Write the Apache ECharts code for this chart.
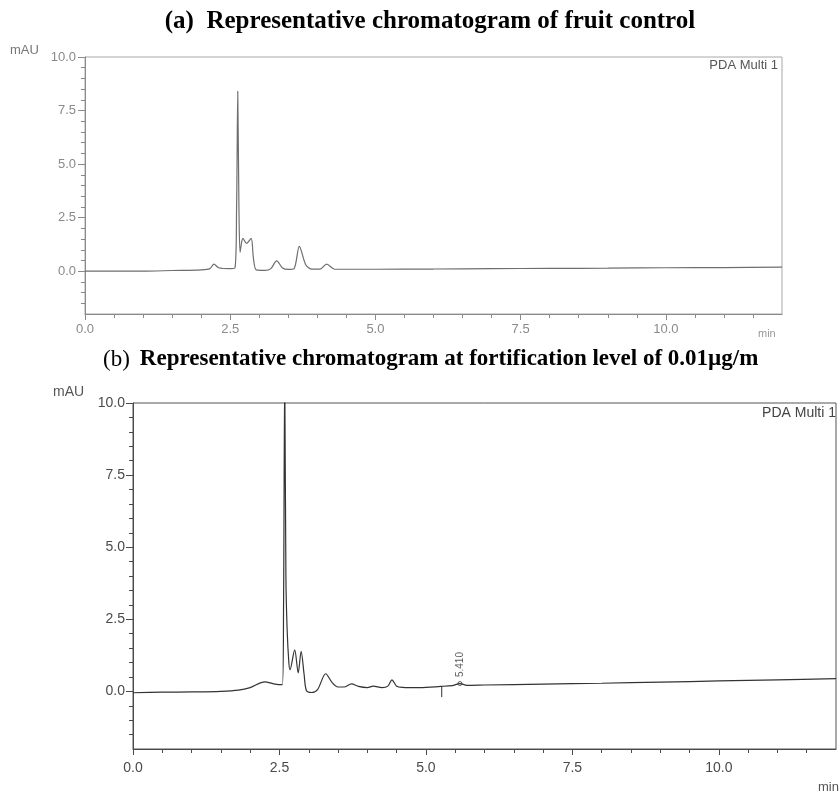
<!DOCTYPE html>
<html>
<head>
<meta charset="utf-8">
<script src="https://cdn.jsdelivr.net/npm/echarts@6/dist/echarts.min.js"></script>
<style>
html,body{margin:0;padding:0;background:#fff;}
#c{width:840px;height:794px;}
</style>
</head>
<body>
<div id="c"></div>
<script>
// ---- data ----
const titleA = 'Representative chromatogram of fruit control';
const titleB = 'Representative chromatogram at fortification level of 0.01µg/m';
const yUnit = 'mAU';
const xUnit = 'min';
const detector = 'PDA Multi 1';
const majorTicks = [0, 2.5, 5, 7.5, 10];
const xMinorTicks = [0.5,1,1.5,2,3,3.5,4,4.5,5.5,6,6.5,7,8,8.5,9,9.5,10.5,11,11.5];
const yMinorTicks = [-1.5,-1,-0.5,0.5,1,1.5,2,3,3.5,4,4.5,5.5,6,6.5,7,8,8.5,9,9.5];

// chromatogram (a): fruit control
const timeA  = [0, 1.0, 1.5, 2.0, 2.15, 2.22, 2.3, 2.5, 2.58, 2.61, 2.63, 2.65, 2.67, 2.70, 2.72, 2.78, 2.86, 2.9, 2.95, 3.1, 3.2, 3.3, 3.4, 3.5, 3.6, 3.69, 3.8, 3.9, 4.05, 4.16, 4.3, 5.0, 6.0, 7.0, 8.0, 9.0, 10.0, 11.0, 12.0];
const valueA = [0.0, 0.0, 0.03, 0.06, 0.12, 0.33, 0.16, 0.12, 0.14, 3.0, 8.4, 3.0, 0.88, 1.4, 1.53, 1.3, 1.53, 0.6, 0.06, 0.04, 0.12, 0.48, 0.15, 0.08, 0.12, 1.16, 0.3, 0.1, 0.1, 0.33, 0.09, 0.09, 0.1, 0.12, 0.13, 0.14, 0.16, 0.17, 0.19];

// chromatogram (b): fortified at 0.01 µg/mL
const timeB  = [0, 0.5, 1.0, 1.5, 1.8, 2.0, 2.25, 2.4, 2.55, 2.57, 2.59, 2.61, 2.63, 2.66, 2.68, 2.76, 2.82, 2.87, 2.92, 2.96, 3.05, 3.15, 3.29, 3.4, 3.5, 3.6, 3.73, 3.85, 4.0, 4.1, 4.25, 4.35, 4.42, 4.5, 4.6, 4.9, 5.25, 5.45, 5.58, 5.7, 6.0, 7.0, 8.0, 9.0, 10.0, 11.0, 12.0];
const valueB = [-0.05, -0.03, -0.02, 0.0, 0.04, 0.13, 0.33, 0.26, 0.23, 3.0, 11.0, 4.0, 2.2, 1.0, 0.75, 1.44, 0.64, 1.39, 0.6, 0.03, -0.04, 0.06, 0.61, 0.3, 0.15, 0.15, 0.26, 0.17, 0.13, 0.18, 0.13, 0.18, 0.4, 0.18, 0.14, 0.13, 0.17, 0.2, 0.27, 0.21, 0.22, 0.25, 0.28, 0.32, 0.36, 0.4, 0.44];
const peakLabelTime = 5.58;
const peakLabelValue = 0.27;
const peakLabelText = '5.410';
// integration start mark (short vertical tick below baseline)
const markTime = [5.27, 5.27];
const markValue = [0.18, -0.2];

const pairs = (t, v) => t.map((x, i) => [x, v[i]]);
const fmt = v => v.toFixed(1);

function xAxes(gi, c, fs, margin) {
  return [
    {gridIndex: gi, type: 'value', min: 0, max: 12, position: 'bottom',
     axisLine: {show: true, onZero: false, lineStyle: {color: c, width: 1}},
     axisTick: {show: true, customValues: majorTicks, length: 6, inside: false, lineStyle: {color: c}},
     axisLabel: {show: true, customValues: majorTicks, formatter: fmt, color: c, fontSize: fs, margin: margin, fontFamily: 'Liberation Sans'},
     splitLine: {show: false}},
    {gridIndex: gi, type: 'value', min: 0, max: 12, position: 'bottom',
     axisLine: {show: false, onZero: false},
     axisTick: {show: true, customValues: xMinorTicks, length: 4, lineStyle: {color: c}},
     axisLabel: {show: false}, splitLine: {show: false}}
  ];
}
function yAxes(gi, c, fs, margin) {
  return [
    {gridIndex: gi, type: 'value', min: -2, max: 10, position: 'left',
     axisLine: {show: true, onZero: false, lineStyle: {color: c, width: 1}},
     axisTick: {show: true, customValues: majorTicks, length: 7, lineStyle: {color: c}},
     axisLabel: {show: true, customValues: majorTicks, formatter: fmt, color: c, fontSize: fs, margin: margin, fontFamily: 'Liberation Sans'},
     splitLine: {show: false}},
    {gridIndex: gi, type: 'value', min: -2, max: 10, position: 'left',
     axisLine: {show: false, onZero: false},
     axisTick: {show: true, customValues: yMinorTicks, length: 4, lineStyle: {color: c}},
     axisLabel: {show: false}, splitLine: {show: false}}
  ];
}

const colA = '#8a8a8a';
const colB = '#4a4a4a';

const chart = echarts.init(document.getElementById('c'), null, {renderer: 'canvas'});
chart.setOption({
  animation: false,
  backgroundColor: '#fff',
  title: [
    {text: '(a)  ' + titleA, left: 425, top: 4, textAlign: 'center',
     textStyle: {fontFamily: 'Liberation Serif', fontWeight: 'bold', fontSize: 25, color: '#000'}},
    {text: '{n|(b)}  {b|' + titleB + '}', left: 98, top: 343,
     textStyle: {rich: {
       n: {fontFamily: 'Liberation Serif', fontWeight: 'normal', fontSize: 23, color: '#000'},
       b: {fontFamily: 'Liberation Serif', fontWeight: 'bold', fontSize: 23, color: '#000'}}}}
  ],
  grid: [
    {left: 85, top: 57, width: 697, height: 257, show: true, borderColor: '#a8a8a8', borderWidth: 1, backgroundColor: 'transparent'},
    {left: 133, top: 403, width: 703, height: 346, show: true, borderColor: '#555', borderWidth: 1, backgroundColor: 'transparent'}
  ],
  xAxis: [].concat(xAxes(0, colA, 13, 9), xAxes(1, colB, 14, 12)),
  yAxis: [].concat(yAxes(0, colA, 13, 9), yAxes(1, colB, 14, 8)),
  graphic: [
    {type: 'text', left: 10, top: 44, style: {text: yUnit, fontSize: 13, fill: '#777', fontFamily: 'Liberation Sans'}},
    {type: 'text', left: 758, top: 328, style: {text: xUnit, fontSize: 11, fill: '#999', fontFamily: 'Liberation Sans'}},
    {type: 'text', right: 62, top: 59, style: {text: detector, fontSize: 13, fill: '#555', fontFamily: 'Liberation Sans'}},
    {type: 'text', left: 53, top: 385, style: {text: yUnit, fontSize: 14, fill: '#555', fontFamily: 'Liberation Sans'}},
    {type: 'text', left: 818, top: 781, style: {text: xUnit, fontSize: 13, fill: '#555', fontFamily: 'Liberation Sans'}},
    {type: 'text', right: 4, top: 406, style: {text: detector, fontSize: 14, fill: '#444', fontFamily: 'Liberation Sans'}}
  ],
  series: [
    {type: 'line', xAxisIndex: 0, yAxisIndex: 0, data: pairs(timeA, valueA), showSymbol: false, symbol: 'none',
     smooth: 0.3, lineStyle: {color: '#6e6e6e', width: 1.2}, clip: true},
    {type: 'line', xAxisIndex: 2, yAxisIndex: 2, data: pairs(timeB, valueB), showSymbol: false, symbol: 'none',
     smooth: 0.3, lineStyle: {color: '#333', width: 1.2}, clip: true},
    {type: 'line', xAxisIndex: 2, yAxisIndex: 2, data: pairs(markTime, markValue), showSymbol: false, symbol: 'none',
     lineStyle: {color: '#333', width: 1}},
    {type: 'scatter', xAxisIndex: 2, yAxisIndex: 2, data: [[peakLabelTime, peakLabelValue]], symbol: 'circle', symbolSize: 4,
     itemStyle: {color: '#fff', borderColor: '#333', borderWidth: 1},
     label: {show: true, position: 'top', distance: 4, rotate: 90, align: 'left', verticalAlign: 'middle',
       formatter: peakLabelText, fontSize: 10, color: '#333', fontFamily: 'Liberation Sans'}}
  ]
});
</script>
</body>
</html>
